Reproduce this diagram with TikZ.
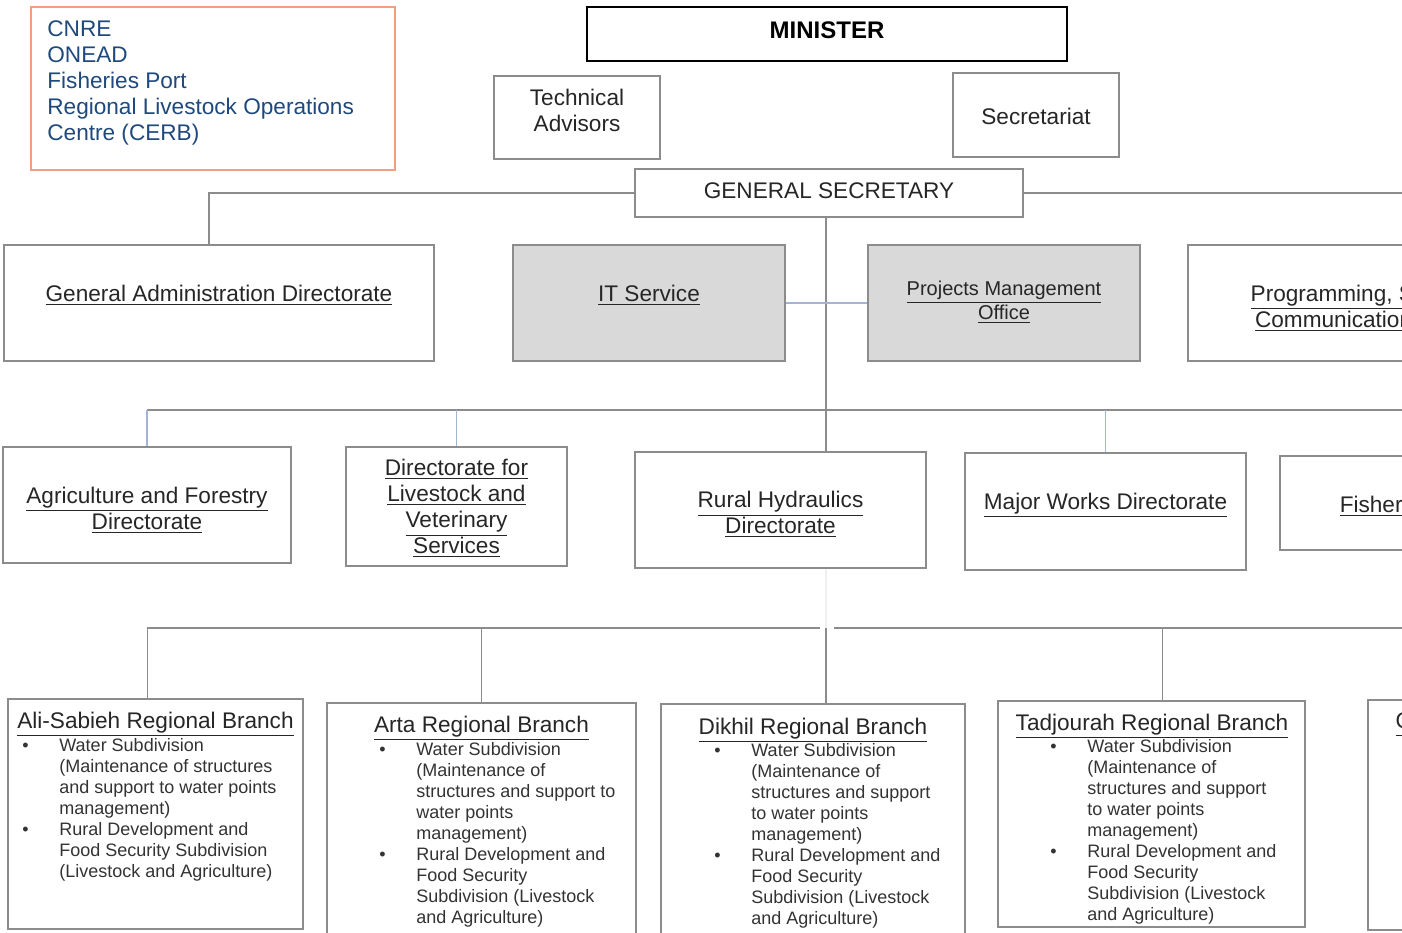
\documentclass[tikz,border=0pt]{standalone}
\usepackage{fontspec}
\setmainfont{Liberation Sans}

\definecolor{boxgray}{HTML}{8C8C8C}
\definecolor{shadegray}{HTML}{D9D9D9}
\definecolor{linegray}{HTML}{8C8C8C}
\definecolor{paleblue}{HTML}{A3B5D6}
\definecolor{infoorange}{HTML}{F0A080}
\definecolor{infoblue}{HTML}{1F497D}

\tikzset{
  dims/.style 2 args={minimum width=#1pt, minimum height=#2pt},
  box/.style={draw=boxgray, line width=0.7pt, inner sep=0pt},
  shaded/.style={box, fill=shadegray},
  caption/.style={inner sep=0pt, align=center, text=black!85, font=\fontsize{11.3}{13}\selectfont},
  titletext/.style={inner sep=0pt, anchor=base, text=black!85, font=\fontsize{11.3}{13}\selectfont},
  listtext/.style={inner sep=0pt, anchor=base west, text=black!80, font=\fontsize{9}{10.5}\selectfont},
  link/.style={draw=linegray, line width=0.8pt},
  bluelink/.style={draw=paleblue, line width=0.8pt},
  faint/.style={draw=black!6, line width=0.8pt},
}

\begin{document}
\begin{tikzpicture}[x=0.5pt, y=-0.5pt]
\useasboundingbox (0,0) rectangle (1402,932);
\clip (0,0) rectangle (1402,932);
\fill[white] (0,0) rectangle (1402,932);

\node[box, draw=infoorange, dims={182}{81.5}] (info) at (213,88.5) {};
\node[caption, align=left, text=infoblue, anchor=north west] (infotext) at (47,20)
  {CNRE\\ONEAD\\Fisheries Port\\Regional Livestock Operations\\Centre (CERB)};
\node[box, draw=black, line width=1.3pt, dims={240}{27}] (minister) at (827,34) {};
\node[caption, text=black, font=\fontsize{12}{14}\selectfont\bfseries] (ministertext) at (827,30) {MINISTER};
\node[box, dims={83}{41.5}] (techadv) at (577,117.5) {};
\node[caption] (techadvtext) at (577,110.5) {Technical\\Advisors};
\node[box, dims={83}{42}] (secr) at (1036,115) {};
\node[caption] (secrtext) at (1036,116) {Secretariat};
\node[box, dims={194}{24}] (gs) at (829,193) {};
\node[caption] (gstext) at (829,191) {GENERAL SECRETARY};

\node[box, dims={215}{58}] (gad) at (219,303) {};
\node[caption] (gadtext) at (219,295) {\underline{General Administration Directorate}};
\node[shaded, dims={136}{58}] (it) at (649,303) {};
\node[caption] (ittext) at (649,295) {\underline{IT Service}};
\node[shaded, dims={136}{58}] (pmo) at (1004,303) {};
\node[caption, font=\fontsize{10}{12}\selectfont] (pmotext) at (1004,302) {\underline{Projects Management}\\\underline{Office}};
\node[box, dims={232}{58}] (prog) at (1420,303) {};
\node[caption] (progtext) at (1392,308) {\underline{Programming, Statistics and}\\\underline{Communication Directorate}};

\node[box, dims={144}{58}] (agr) at (147,505) {};
\node[caption] (agrtext) at (147,510) {\underline{Agriculture and Forestry}\\\underline{Directorate}};
\node[box, dims={110.5}{59.5}] (liv) at (456.5,506.5) {};
\node[caption] (livtext) at (456.5,508.5) {\underline{Directorate for}\\\underline{Livestock and}\\\underline{Veterinary}\\\underline{Services}};
\node[box, dims={145.5}{58}] (rh) at (780.5,510) {};
\node[caption] (rhtext) at (780.5,514.5) {\underline{Rural Hydraulics}\\\underline{Directorate}};
\node[box, dims={140.5}{58.5}] (mw) at (1105.5,511.5) {};
\node[caption] (mwtext) at (1105.5,505.5) {\underline{Major Works Directorate}};
\node[box, dims={164}{47}] (fish) at (1444,503) {};
\node[caption] (fishtext) at (1444,506) {\underline{Fisheries Directorate}};

\node[box, dims={147.5}{115}] (ali) at (155.5,814) {};
\node[box, dims={154.5}{116}] (arta) at (481.5,819) {};
\node[box, dims={152}{116}] (dik) at (813,820) {};
\node[box, dims={153.5}{113}] (tad) at (1151.5,814) {};
\node[box, dims={147}{115}] (obock) at (1515,815) {};

\node[titletext] (alititle) at (155.5,728) {\underline{Ali-Sabieh Regional Branch}};
\node[listtext] (alilist) at (22,751) {\begin{tabular}[t]{@{}p{18.5pt}@{}l@{}}
\textbullet & Water Subdivision\\
 & (Maintenance of structures\\
 & and support to water points\\
 & management)\\
\textbullet & Rural Development and\\
 & Food Security Subdivision\\
 & (Livestock and Agriculture)
\end{tabular}};

\node[titletext] (artatitle) at (481.5,732) {\underline{Arta Regional Branch}};
\node[listtext] (artalist) at (379,755) {\begin{tabular}[t]{@{}p{18.5pt}@{}l@{}}
\textbullet & Water Subdivision\\
 & (Maintenance of\\
 & structures and support to\\
 & water points\\
 & management)\\
\textbullet & Rural Development and\\
 & Food Security\\
 & Subdivision (Livestock\\
 & and Agriculture)
\end{tabular}};

\node[titletext] (diktitle) at (813,734) {\underline{Dikhil Regional Branch}};
\node[listtext] (diklist) at (714,756) {\begin{tabular}[t]{@{}p{18.5pt}@{}l@{}}
\textbullet & Water Subdivision\\
 & (Maintenance of\\
 & structures and support\\
 & to water points\\
 & management)\\
\textbullet & Rural Development and\\
 & Food Security\\
 & Subdivision (Livestock\\
 & and Agriculture)
\end{tabular}};

\node[titletext] (tadtitle) at (1152,730) {\underline{Tadjourah Regional Branch}};
\node[listtext] (tadlist) at (1050,752) {\begin{tabular}[t]{@{}p{18.5pt}@{}l@{}}
\textbullet & Water Subdivision\\
 & (Maintenance of\\
 & structures and support\\
 & to water points\\
 & management)\\
\textbullet & Rural Development and\\
 & Food Security\\
 & Subdivision (Livestock\\
 & and Agriculture)
\end{tabular}};

\node[titletext] (obocktitle) at (1515,728) {\underline{Obock Regional Branch}};

\coordinate (spine) at (826,217);
\coordinate (rail) at (0,410);
\coordinate (bus) at (0,628);
\coordinate (gadTap) at ([xshift=-5pt]gad.north);
\coordinate (aliTap) at ([xshift=-4pt]ali.north);
\coordinate (tadTap) at ([xshift=5.5pt]tad.north);
\coordinate (gapW) at ([xshift=-3pt]spine |- bus);
\coordinate (gapE) at ([xshift=4pt]spine |- bus);

\draw[link] (gs.west) -| (gadTap);
\draw[link] (gs.east) -| (prog.north);
\draw[link] (spine) -- (spine |- rh.north);
\draw[bluelink] (it.east) -- (pmo.west);

\draw[link] (agr.north |- rail) -- (fish.north |- rail);
\draw[bluelink] (agr.north |- rail) -- (agr.north);
\draw[bluelink] (liv.north |- rail) -- (liv.north);
\draw[bluelink] (mw.north |- rail) -- (mw.north);
\draw[link] (fish.north |- rail) -- (fish.north);

\draw[faint] (spine |- rh.south) -- (spine |- bus);
\draw[link] (aliTap) -- (aliTap |- bus) -- (gapW);
\draw[link] (gapE) -- (obock.north |- bus);
\draw[link] (arta.north |- bus) -- (arta.north);
\draw[link] (spine |- bus) -- (spine |- dik.north);
\draw[link] (tadTap |- bus) -- (tadTap);
\draw[link] (obock.north |- bus) -- (obock.north);
\end{tikzpicture}
\end{document}
